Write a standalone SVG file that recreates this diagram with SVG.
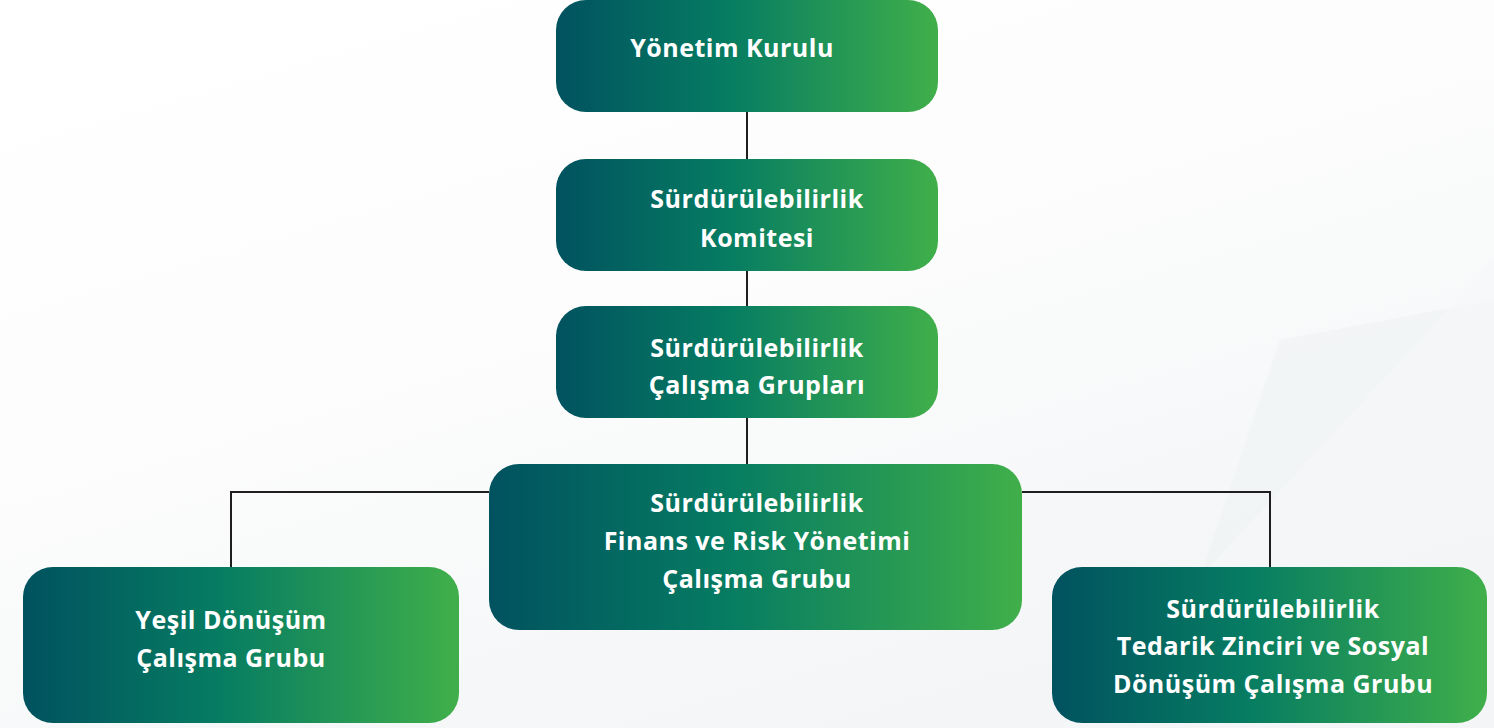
<svg xmlns="http://www.w3.org/2000/svg" width="1494" height="728" viewBox="0 0 1494 728">
<defs>
<linearGradient id="g" x1="0" y1="0" x2="1" y2="0">
<stop offset="0" stop-color="#01525f"/>
<stop offset="0.45" stop-color="#067c62"/>
<stop offset="1" stop-color="#40af4a"/>
</linearGradient>
<linearGradient id="bg" x1="0" y1="0" x2="0.6" y2="1">
<stop offset="0" stop-color="#ffffff"/>
<stop offset="0.45" stop-color="#fdfdfd"/>
<stop offset="1" stop-color="#f3f5f6"/>
</linearGradient>
<style>
.box{fill:url(#g);}
.t{font-family:"Open Sans","Liberation Sans",sans-serif;font-weight:700;font-size:25px;letter-spacing:0.5px;fill:#ffffff;text-anchor:middle;}
.c{fill:none;stroke:#1e1e1e;stroke-width:2;}
</style>
</defs>
<rect width="1494" height="728" fill="url(#bg)"/>
<polygon points="1280,340 1494,300 1494,728 1150,728" fill="#eef1f2" opacity="0.5"/>
<polygon points="1060,728 1494,260 1494,728" fill="#f6f7f8" opacity="0.6"/>
<g id="connectors">
<line class="c" x1="747" y1="112" x2="747" y2="159"/>
<line class="c" x1="747" y1="271" x2="747" y2="306"/>
<line class="c" x1="747" y1="418" x2="747" y2="464"/>
<polyline class="c" points="489,492 231,492 231,567"/>
<polyline class="c" points="1022,492 1270,492 1270,567"/>
</g>
<g id="yonetim-kurulu">
<rect class="box" x="556" y="0" width="382" height="112" rx="30"/>
<text class="t" x="732" y="57">Yönetim Kurulu</text>
</g>
<g id="komite">
<rect class="box" x="556" y="159" width="382" height="112" rx="30"/>
<text class="t" x="757" y="208">Sürdürülebilirlik</text>
<text class="t" x="757" y="247">Komitesi</text>
</g>
<g id="calisma-gruplari">
<rect class="box" x="556" y="306" width="382" height="112" rx="30"/>
<text class="t" x="757" y="357">Sürdürülebilirlik</text>
<text class="t" x="757" y="394">Çalışma Grupları</text>
</g>
<g id="finans-risk">
<rect class="box" x="489" y="464" width="533" height="166" rx="30"/>
<text class="t" x="757" y="512">Sürdürülebilirlik</text>
<text class="t" x="757" y="550">Finans ve Risk Yönetimi</text>
<text class="t" x="757" y="588">Çalışma Grubu</text>
</g>
<g id="yesil-donusum">
<rect class="box" x="23" y="567" width="436" height="156" rx="30"/>
<text class="t" x="231" y="629">Yeşil Dönüşüm</text>
<text class="t" x="231" y="667">Çalışma Grubu</text>
</g>
<g id="tedarik-zinciri">
<rect class="box" x="1052" y="567" width="435" height="156" rx="30"/>
<text class="t" x="1273" y="618">Sürdürülebilirlik</text>
<text class="t" x="1273" y="655">Tedarik Zinciri ve Sosyal</text>
<text class="t" x="1273" y="693">Dönüşüm Çalışma Grubu</text>
</g>
</svg>
